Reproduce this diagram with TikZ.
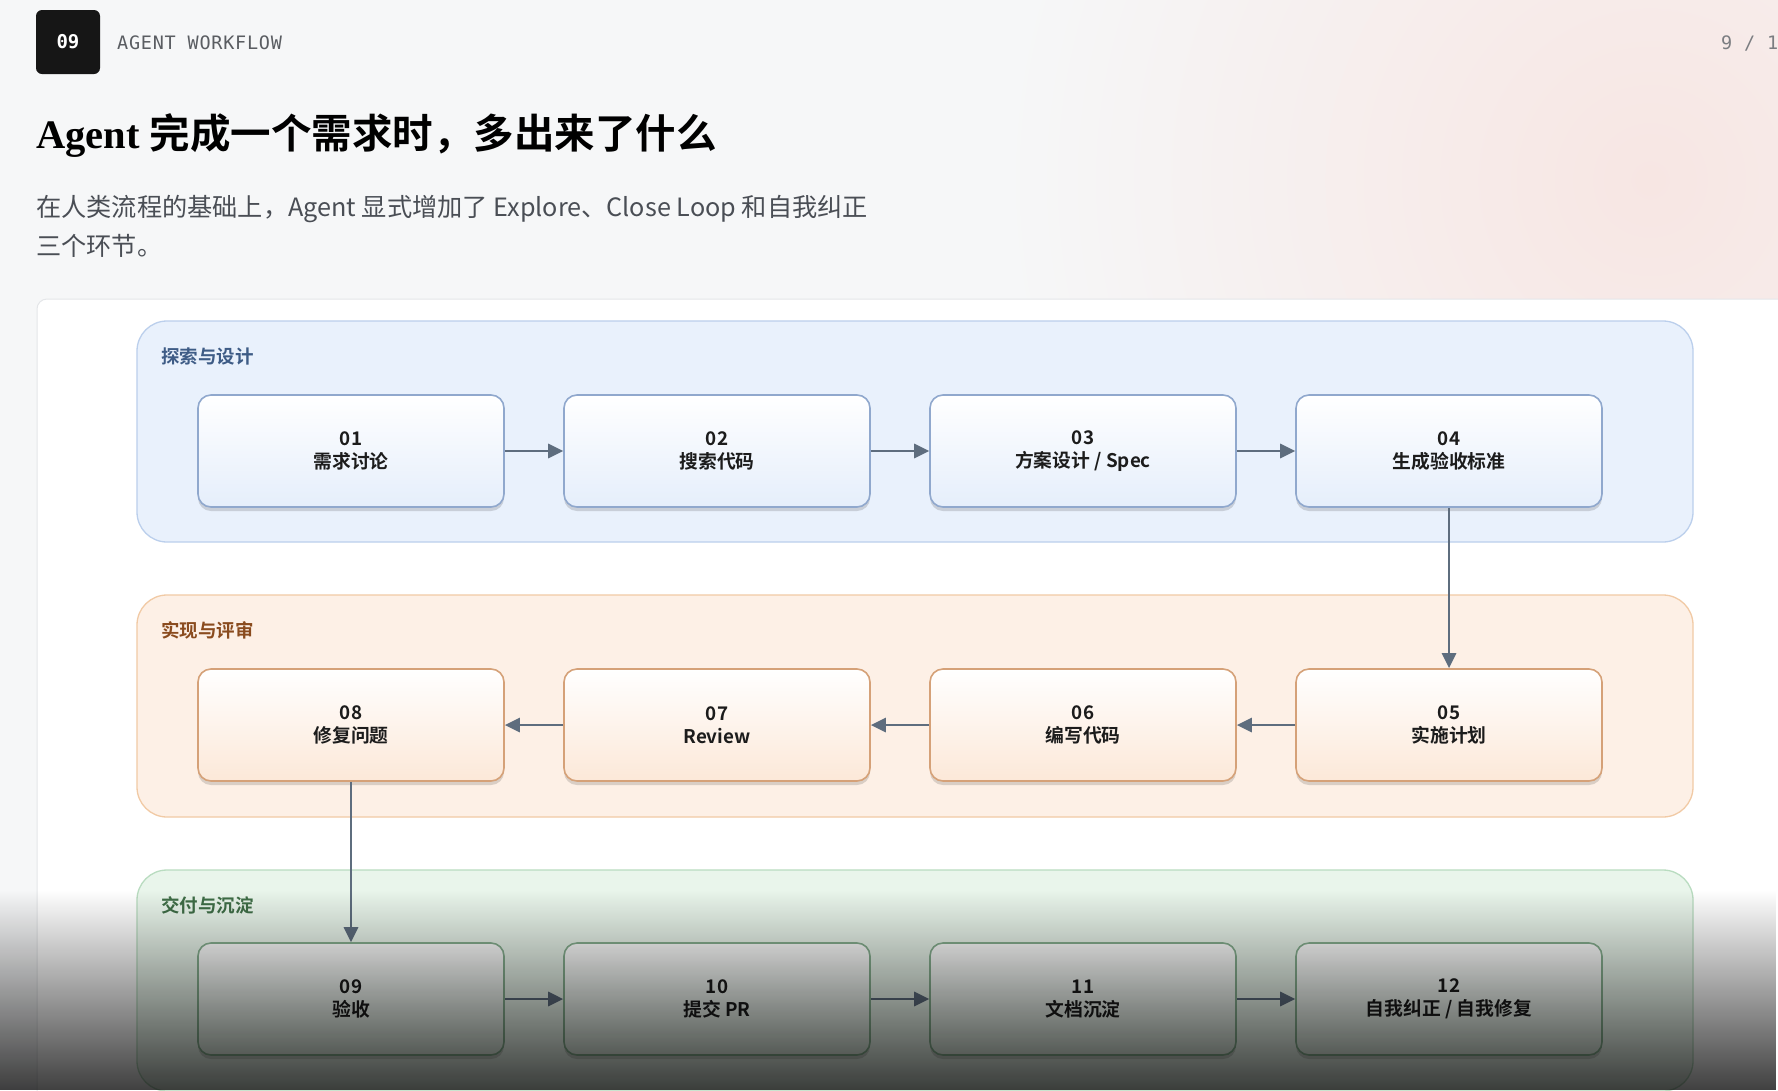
\documentclass[tikz,border=0pt]{standalone}
\usepackage{fontspec}
\setmainfont{Liberation Sans}
\setmonofont{DejaVu Sans Mono}
\newfontfamily\cjk{Noto Sans CJK SC}[BoldFont={* Bold}]
\newfontfamily\titleserif{Liberation Serif}
\newfontfamily\kickermono{DejaVu Sans Mono}[LetterSpace=4]
\usetikzlibrary{arrows.meta,shadows,fadings}

\definecolor{pagebg}{HTML}{F6F7F8}
\definecolor{pinkglow}{HTML}{F7E6E3}
\definecolor{panelline}{HTML}{E4E6E9}
\definecolor{headblack}{HTML}{161616}
\definecolor{kickergrey}{HTML}{5A5D62}
\definecolor{subgrey}{HTML}{4A4E55}
\definecolor{arrowgrey}{HTML}{5E6D7E}
\definecolor{boxtext}{HTML}{1C1C1C}
\definecolor{bluezone}{HTML}{E9F1FC}
\definecolor{blueedge}{HTML}{BBCFEC}
\definecolor{bluetag}{HTML}{3E5C86}
\definecolor{bluebottom}{HTML}{E5EEFB}
\definecolor{blueline}{HTML}{90A8CD}
\definecolor{orangezone}{HTML}{FDF0E6}
\definecolor{orangeedge}{HTML}{F1CAA5}
\definecolor{orangetag}{HTML}{8A4B1E}
\definecolor{orangebottom}{HTML}{FCE8D8}
\definecolor{orangeline}{HTML}{D5A178}
\definecolor{greenzone}{HTML}{E9F5EB}
\definecolor{greenedge}{HTML}{B9DCC0}
\definecolor{greentag}{HTML}{3F6E47}
\definecolor{greenbottom}{HTML}{E2EFE4}
\definecolor{greenline}{HTML}{88B191}

\tikzfading[name=darkbottom, top color=transparent!100, bottom color=transparent!25]

\tikzset{
  stage/.style={rounded corners=30pt, line width=1.3pt},
  stagetag/.style={anchor=base west, inner sep=0pt, font=\cjk\bfseries\fontsize{18.5}{22}\selectfont},
  stepbox/.style={rounded corners=13pt, minimum width=306pt, minimum height=112pt,
    line width=1.6pt, align=center, text=boxtext, inner sep=0pt,
    font=\cjk\bfseries\fontsize{18.8}{22.5}\selectfont,
    drop shadow={shadow xshift=0pt, shadow yshift=-4pt, opacity=0.14, fill=black}},
  bluestep/.style={stepbox, draw=blueline, top color=white, bottom color=bluebottom},
  orangestep/.style={stepbox, draw=orangeline, top color=white, bottom color=orangebottom},
  greenstep/.style={stepbox, draw=greenline, top color=white, bottom color=greenbottom},
  flow/.style={draw=arrowgrey, line width=2.8pt, -{Triangle[length=15pt,width=14pt]}}
}

\begin{document}
\begin{tikzpicture}[x=1pt,y=-1pt]
  %%%%% PAGE %%%%%
  \useasboundingbox (0,0) rectangle (1778,1090);
  \clip (0,0) rectangle (1778,1090);
  \fill[pagebg] (0,0) rectangle (1778,1090);
  \shade[inner color=pinkglow, outer color=pagebg] (1650,180) circle (650);

  %%%%% HEADER %%%%%
  \node[fill=headblack, rounded corners=6pt, minimum width=64pt, minimum height=64pt,
    text=white, font=\ttfamily\bfseries\fontsize{19}{22}\selectfont] (badge) at (68,42) {09};
  \node[anchor=base west, inner sep=0pt, text=kickergrey,
    font=\kickermono\fontsize{18.5}{22}\selectfont] (kicker) at (117,49) {AGENT WORKFLOW};
  \node[anchor=base west, inner sep=0pt, text=kickergrey!80,
    font=\kickermono\fontsize{18.5}{22}\selectfont] (pageno) at (1721,49) {9 / 12};

  \node[anchor=base west, inner sep=0pt, text=black] (title) at (36,148)
    {{\titleserif\bfseries\fontsize{40.5}{44}\selectfont Agent\ }{\cjk\bfseries\fontsize{40.5}{44}\selectfont 完成一个需求时，多出来了什么}};
  \node[anchor=base west, inner sep=0pt, text=subgrey, font=\cjk\fontsize{25.2}{30}\selectfont] (lead1)
    at (36,216) {在人类流程的基础上，Agent 显式增加了 Explore、Close Loop 和自我纠正};
  \node[anchor=base west, inner sep=0pt, text=subgrey, font=\cjk\fontsize{25.2}{30}\selectfont] (lead2)
    at (36,255) {三个环节。};

  %%%%% PANEL %%%%%
  \draw[panelline, fill=white, rounded corners=10pt, line width=1pt] (37,299) rectangle (1820,1130);

  \draw[stage, fill=bluezone, draw=blueedge] (137,321) rectangle (1693,542);
  \node[stagetag, text=bluetag] (exploretag) at (161,363) {探索与设计};

  \draw[stage, fill=orangezone, draw=orangeedge] (137,595) rectangle (1693,817);
  \node[stagetag, text=orangetag] (buildtag) at (161,637) {实现与评审};

  \draw[stage, fill=greenzone, draw=greenedge] (137,870) rectangle (1693,1091);
  \node[stagetag, text=greentag] (delivertag) at (161,912) {交付与沉淀};

  %%%%% STEPS %%%%%
  \node[bluestep] (s01) at (351,451) {01\\需求讨论};
  \node[bluestep] (s02) at (717,451) {02\\搜索代码};
  \node[bluestep] (s03) at (1083,451) {03\\方案设计 / Spec};
  \node[bluestep] (s04) at (1449,451) {04\\生成验收标准};

  \node[orangestep] (s05) at (1449,725) {05\\实施计划};
  \node[orangestep] (s06) at (1083,725) {06\\编写代码};
  \node[orangestep] (s07) at (717,725) {07\\Review};
  \node[orangestep] (s08) at (351,725) {08\\修复问题};

  \node[greenstep] (s09) at (351,999) {09\\验收};
  \node[greenstep] (s10) at (717,999) {10\\提交 PR};
  \node[greenstep] (s11) at (1083,999) {11\\文档沉淀};
  \node[greenstep] (s12) at (1449,999) {12\\自我纠正 / 自我修复};

  %%%%% FLOW %%%%%
  \draw[flow] (s01) -- (s02);
  \draw[flow] (s02) -- (s03);
  \draw[flow] (s03) -- (s04);
  \draw[flow] (s04) -- (s05);
  \draw[flow] (s05) -- (s06);
  \draw[flow] (s06) -- (s07);
  \draw[flow] (s07) -- (s08);
  \draw[flow] (s08) -- (s09);
  \draw[flow] (s09) -- (s10);
  \draw[flow] (s10) -- (s11);
  \draw[flow] (s11) -- (s12);

  %%%%% SCREEN DARKENING %%%%%
  \fill[black, path fading=darkbottom] (0,890) rectangle (1778,1090);
\end{tikzpicture}
\end{document}
